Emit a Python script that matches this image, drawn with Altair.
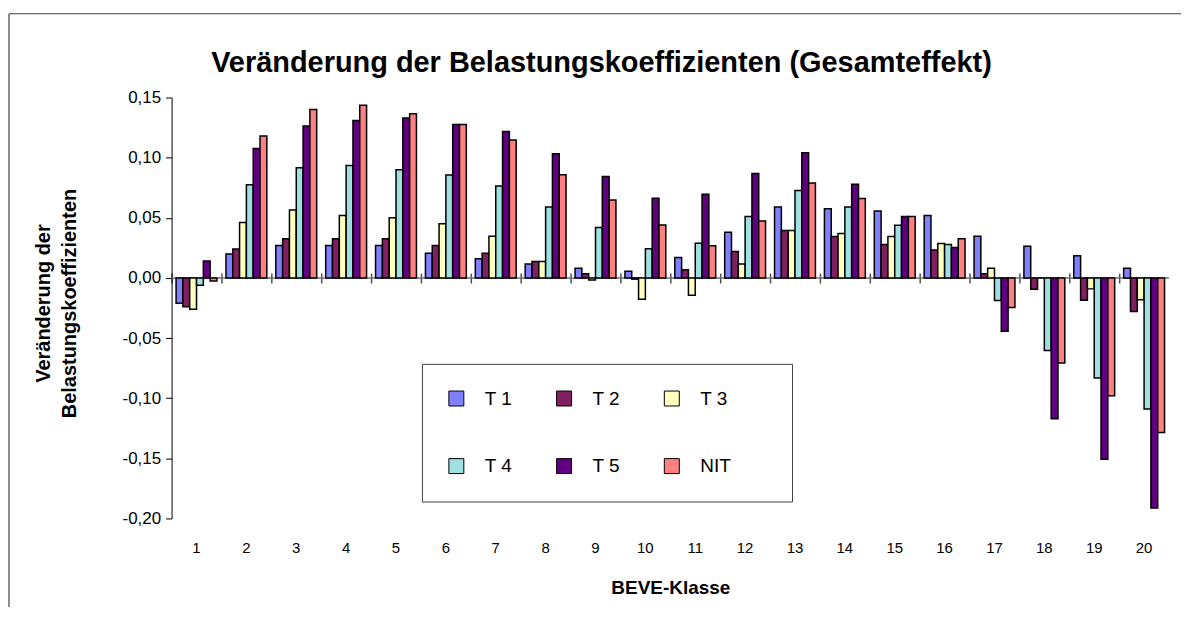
import altair as alt
import pandas as pd

klassen = list(range(1, 21))
serien = ["T 1", "T 2", "T 3", "T 4", "T 5", "NIT"]
farben = ["#8080FF", "#802060", "#FFFFC0", "#A0E0E0", "#600080", "#FF8080"]

T1 = [-0.021, 0.020, 0.027, 0.027, 0.027, 0.0205, 0.016, 0.0115, 0.008, 0.0056,
      0.017, 0.038, 0.059, 0.0576, 0.0557, 0.052, 0.0347, 0.0264, 0.0185, 0.008]
T2 = [-0.024, 0.024, 0.0325, 0.0325, 0.0325, 0.027, 0.0205, 0.0137, 0.0035, -0.001,
      0.0068, 0.022, 0.0394, 0.0344, 0.0278, 0.0232, 0.0035, -0.0095, -0.0185, -0.028]
T3 = [-0.026, 0.046, 0.0565, 0.052, 0.050, 0.045, 0.0347, 0.0137, -0.0018, -0.0178,
      -0.0143, 0.0115, 0.0394, 0.0369, 0.0344, 0.0287, 0.0081, 0.0, -0.0091, -0.0182]
T4 = [-0.006, 0.0775, 0.0916, 0.0935, 0.090, 0.0855, 0.0765, 0.059, 0.042, 0.0242,
      0.0289, 0.051, 0.0728, 0.059, 0.0438, 0.0278, -0.0188, -0.0604, -0.0832, -0.109]
T5 = [0.014, 0.1077, 0.1264, 0.131, 0.133, 0.1275, 0.1218, 0.1033, 0.0844, 0.0662,
      0.0695, 0.0869, 0.104, 0.0778, 0.051, 0.0253, -0.0443, -0.117, -0.1507, -0.1913]
NIT = [-0.0025, 0.118, 0.140, 0.1436, 0.1366, 0.1275, 0.1146, 0.0858, 0.0648, 0.0441,
       0.0267, 0.0474, 0.079, 0.066, 0.051, 0.0325, -0.0246, -0.0707, -0.098, -0.1285]

y_ticks = [-0.20, -0.15, -0.10, -0.05, 0.0, 0.05, 0.10, 0.15]

rows = []
for s, vals in zip(serien, [T1, T2, T3, T4, T5, NIT]):
    for k, v in zip(klassen, vals):
        rows.append({"klasse": k, "serie": s, "wert": v})
df = pd.DataFrame(rows)

FONT = "Liberation Sans"

bars = alt.Chart(df).mark_bar(stroke="black", strokeWidth=1.5).encode(
    x=alt.X(
        "klasse:O",
        scale=alt.Scale(paddingInner=0, paddingOuter=0),
        axis=alt.Axis(
            orient="bottom", offset=-246, domain=False, ticks=True, tickSize=10,
            tickColor="#505050", tickWidth=1.5, bandPosition=0, labelAngle=0,
            labelPadding=258, labelFontSize=15, labelColor="black",
            title="BEVE-Klasse", titleFontSize=19, titleFontWeight="bold",
            titleY=321, titleBaseline="alphabetic", titleColor="black",
        ),
    ),
    xOffset=alt.XOffset("serie:N", sort=serien,
                        scale=alt.Scale(paddingInner=0, paddingOuter=0.66)),
    y=alt.Y(
        "wert:Q",
        scale=alt.Scale(domain=[-0.2, 0.15], nice=False, zero=False),
        axis=alt.Axis(
            values=y_ticks, grid=False, domainColor="black", tickColor="black",
            tickSize=6, labelFontSize=17, labelPadding=5, labelColor="black",
            labelExpr="(datum.value < -0.0001 ? '-' : '') + replace(format(abs(datum.value), '.2f'), '.', ',')",
            title=["Veränderung der", "Belastungskoeffizienten"],
            titleFontSize=20, titleFontWeight="bold", titleColor="black",
            titleX=-118, titleY=206, titleAlign="center", titleBaseline="bottom",
            titleLineHeight=26,
        ),
    ),
    color=alt.Color(
        "serie:N", sort=serien,
        scale=alt.Scale(domain=serien, range=farben),
        legend=alt.Legend(
            orient="none", legendX=251, legendY=267, columns=3, direction="horizontal",
            title=".", titleOrient="right", titlePadding=32, titleOpacity=0,
            symbolType="square", symbolSize=225, symbolStrokeColor="black",
            symbolStrokeWidth=1, labelFontSize=19, labelOffset=19,
            columnPadding=42, rowPadding=48, padding=25,
            fillColor="white", strokeColor="#404040", labelColor="black",
        ),
    ),
)

zero = alt.Chart(pd.DataFrame({"z": [0]})).mark_rule(
    color="#707070", strokeWidth=1.5
).encode(y=alt.datum(0))

frame_df = pd.DataFrame({"a": [0]})
frame_top = alt.Chart(frame_df).mark_rule(color="#404040", strokeWidth=1.2).encode(
    x=alt.value(-163), x2=alt.value(1012), y=alt.value(-84)
)
frame_left = alt.Chart(frame_df).mark_rule(color="#404040", strokeWidth=1.2).encode(
    x=alt.value(-163), y=alt.value(-84), y2=alt.value(524)
)

chart = alt.layer(frame_top, frame_left, zero, bars).properties(
    width=1000,
    height=422,
    autosize=alt.AutoSizeParams(type="none"),
    padding={"left": 164, "top": 89, "right": 12, "bottom": 88},
    title=alt.Title(
        "Veränderung der Belastungskoeffizienten (Gesamteffekt)",
        fontSize=29, fontWeight="bold", anchor="middle", frame="group",
        dx=-69, dy=88, offset=0, baseline="alphabetic", color="black", font=FONT,
    ),
).configure(font=FONT).configure_view(stroke=None).configure_axis(
    labelFont=FONT, titleFont=FONT
).configure_legend(labelFont=FONT, titleFont=FONT)

chart.save("out.html", embed_options={"renderer": "svg", "actions": False})
